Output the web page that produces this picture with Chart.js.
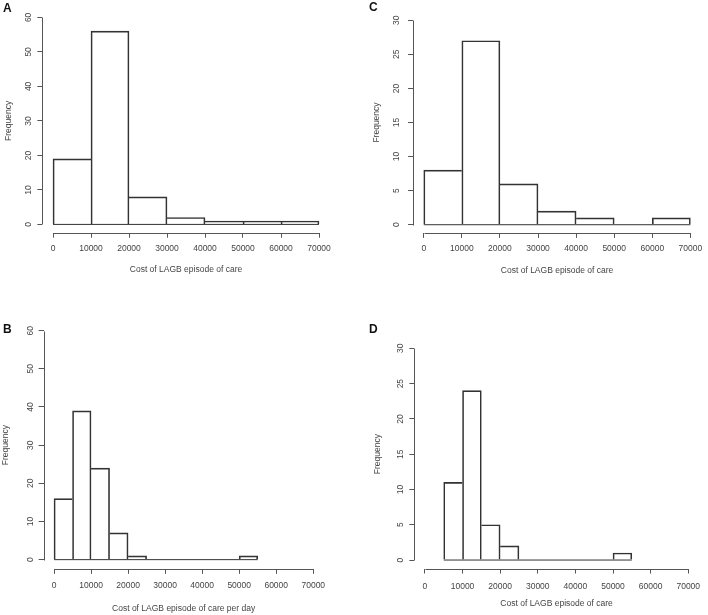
<!DOCTYPE html>
<html>
<head>
<meta charset="utf-8">
<script src="https://cdn.jsdelivr.net/npm/chart.js@4.4.1/dist/chart.umd.min.js"></script>
<style>
body{margin:0;background:#fff;}
#wrap{position:relative;width:708px;height:615px;}
canvas{position:absolute;}
</style>
</head>
<body>
<div id="wrap">
<canvas id="chartA" width="354" height="300" style="left:0;top:0"></canvas>
<canvas id="chartC" width="354" height="300" style="left:354px;top:0"></canvas>
<canvas id="chartB" width="354" height="315" style="left:0;top:300px"></canvas>
<canvas id="chartD" width="354" height="315" style="left:354px;top:300px"></canvas>
</div>
<script>
// tick labels
const xTicks=[0,10000,20000,30000,40000,50000,60000,70000];
const yTicks60=[0,10,20,30,40,50,60];
const yTicks30=[0,5,10,15,20,25,30];

// histogram bins (edges) and counts per panel
const edgesA=[0,10000,20000,30000,40000,50000,60000,70000];
const countsA=[19,56,8,2,1,1,1];

const edgesC=[0,10000,20000,30000,40000,50000,60000,70000];
const countsC=[8,27,6,2,1,0,1];

const edgesB=[0,5000,10000,15000,20000,25000,30000,35000,40000,45000,50000,55000];
const countsB=[16,39,24,7,1,0,0,0,0,0,1];

const edgesD=[5000,10000,15000,20000,25000,30000,35000,40000,45000,50000,55000];
const countsD=[11,24,5,2,0,0,0,0,0,1];

const font={family:"'Liberation Sans', Arial, sans-serif",size:8.5};
const ink="#333";
const axisInk="#555";
const textInk="#444";

// each shared edge drawn once, by the taller bar (like R's rect outlines)
function edgeWidths(counts){
  return c=>{
    const i=c.dataIndex, v=counts[i];
    const prev=i>0?counts[i-1]:-1;
    const next=i<counts.length-1?counts[i+1]:-1;
    return {top:1,bottom:0,left:prev<=v?1:0,right:next<v?1:0};
  };
}

// R style detached axes: line only from first to last tick
const rAxes={
  id:'rAxes',
  afterDraw(chart,args,opts){
    const {ctx,chartArea:a,scales:{x,y}}=chart;
    const crisp=v=>Math.round(v)+0.5;
    const xt=x.ticks, yt=y.ticks;
    ctx.save();
    ctx.strokeStyle=axisInk;
    ctx.lineWidth=1;
    ctx.beginPath();
    ctx.moveTo(crisp(x.getPixelForValue(xt[0].value)),crisp(a.bottom));
    ctx.lineTo(crisp(x.getPixelForValue(xt[xt.length-1].value)),crisp(a.bottom));
    ctx.moveTo(crisp(a.left),crisp(y.getPixelForValue(yt[0].value)));
    ctx.lineTo(crisp(a.left),crisp(y.getPixelForValue(yt[yt.length-1].value)));
    ctx.stroke();
    ctx.fillStyle="#111";
    ctx.font="bold 12px 'Liberation Sans', Arial, sans-serif";
    ctx.textBaseline="alphabetic";
    ctx.fillText(opts.text,opts.x,opts.y);
    ctx.restore();
  }
};

function histogram(id,edges,counts,yTicks,xTitle,lay){
  const bars=counts.map((n,i)=>({x:(edges[i]+edges[i+1])/2,y:n}));
  const xSpan=xTicks[xTicks.length-1]-xTicks[0];
  const ySpan=yTicks[yTicks.length-1]-yTicks[0];
  new Chart(document.getElementById(id),{
    type:'bar',
    data:{
      datasets:[
        {
          type:'line',
          data:[{x:edges[0],y:0},{x:edges[edges.length-1],y:0}],
          borderColor:ink,borderWidth:1,pointRadius:0
        },
        {
          data:bars,
          backgroundColor:'rgba(255,255,255,0)',
          borderColor:ink,
          borderWidth:edgeWidths(counts),
          barPercentage:1,
          categoryPercentage:1
        }
      ]
    },
    options:{
      responsive:false,
      animation:false,
      layout:{autoPadding:false,padding:{left:0,top:lay.top,right:lay.right,bottom:0}},
      plugins:{
        legend:{display:false},
        tooltip:{enabled:false},
        rAxes:{text:lay.tag,x:lay.tagX,y:lay.tagY}
      },
      scales:{
        x:{
          type:'linear',
          offset:false,
          min:xTicks[0]-0.04*xSpan,
          max:xTicks[xTicks.length-1]+0.04*xSpan,
          afterBuildTicks:s=>{s.ticks=xTicks.map(v=>({value:v}));},
          afterFit:s=>{s.height=lay.xh;},
          border:{display:false},
          grid:{offset:false,drawOnChartArea:false,drawTicks:true,tickLength:5,color:axisInk,lineWidth:1},
          ticks:{color:textInk,font,padding:lay.xpad,maxRotation:0,autoSkip:false,callback:v=>String(v)},
          title:{display:true,text:xTitle,color:textInk,font,padding:{top:0,bottom:lay.xtp}}
        },
        y:{
          min:yTicks[0]-0.04*ySpan,
          max:yTicks[yTicks.length-1]+0.04*ySpan,
          afterBuildTicks:s=>{s.ticks=yTicks.map(v=>({value:v}));},
          afterFit:s=>{s.width=lay.yw;},
          border:{display:false},
          grid:{drawOnChartArea:false,drawTicks:true,tickLength:5,color:axisInk,lineWidth:1},
          ticks:{color:textInk,font,padding:lay.ypad,minRotation:90,maxRotation:90,crossAlign:'center',autoSkip:false,callback:v=>String(v)},
          title:{display:true,text:'Frequency',color:textInk,font,padding:{top:lay.ytp,bottom:0}}
        }
      }
    },
    plugins:[rAxes]
  });
}

histogram('chartA',edgesA,countsA,yTicks60,'Cost of LAGB episode of care',
  {yw:42.36,right:24.36,top:4.9,xh:67.3,ypad:4,ytp:4,xpad:6.2,xtp:25.4,tag:'A',tagX:3,tagY:11.7});
histogram('chartC',edgesC,countsC,yTicks30,'Cost of LAGB episode of care',
  {yw:59.08,right:0.08,top:0.7,xh:67.1,ypad:7,ytp:17.9,xpad:5.8,xtp:23.9,tag:'C',tagX:15,tagY:11});
histogram('chartB',edgesB,countsB,yTicks60,'Cost of LAGB episode of care per day',
  {yw:43.64,right:30.36,top:21.5,xh:46.2,ypad:3.5,ytp:0.2,xpad:7,xtp:1.2,tag:'B',tagX:3,tagY:33});
histogram('chartD',edgesD,countsD,yTicks30,'Cost of LAGB episode of care',
  {yw:60.36,right:6.36,top:39.9,xh:46.5,ypad:3.6,ytp:18.9,xpad:7.7,xtp:5.9,tag:'D',tagX:15,tagY:33});
</script>
</body>
</html>
